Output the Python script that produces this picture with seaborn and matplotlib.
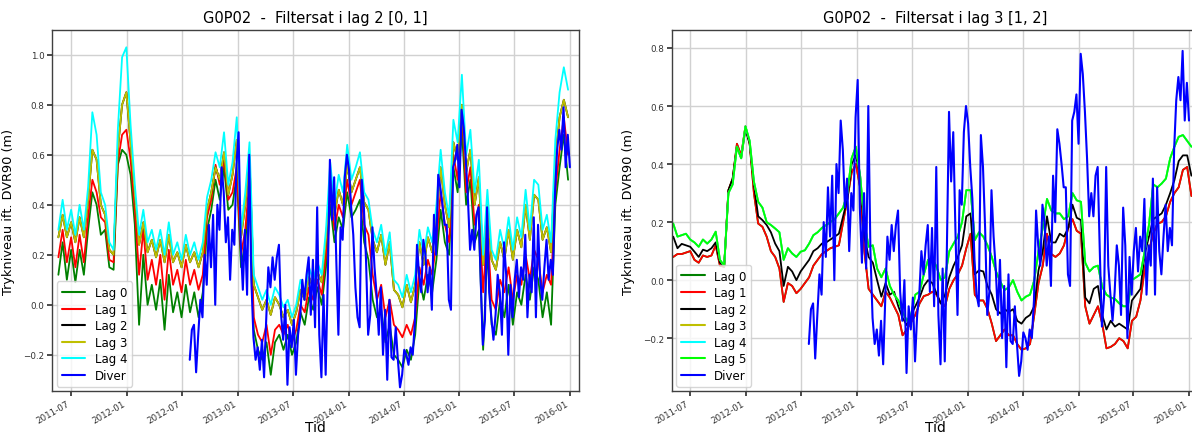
import numpy as np
import pandas as pd
import matplotlib
matplotlib.use("Agg")
import matplotlib.pyplot as plt
import matplotlib.dates as mdates
import seaborn as sns

# ---------------- data ----------------
# Left panel: lag series, 14-day steps from 2011-05-20
L_START = "2011-05-20"
l_lag4 = [0.30, 0.42, 0.30, 0.38, 0.28, 0.40, 0.30, 0.47, 0.77, 0.68,
          0.45, 0.40, 0.25, 0.22, 0.70, 0.99, 1.03, 0.72, 0.48, 0.28,
          0.38, 0.25, 0.30, 0.22, 0.30, 0.20, 0.33, 0.20, 0.25, 0.18,
          0.28, 0.20, 0.25, 0.18, 0.25, 0.43, 0.50, 0.61, 0.55, 0.69,
          0.48, 0.57, 0.75, 0.30, 0.45, 0.65, 0.12, 0.07, 0.02, 0.06,
          0.00, 0.07, 0.04, -0.01, 0.02, -0.05, 0.00, 0.10, 0.05, 0.15,
          0.10, 0.17, 0.12, 0.30, 0.57, 0.40, 0.52, 0.45, 0.64, 0.50,
          0.55, 0.61, 0.45, 0.42, 0.30, 0.25, 0.32, 0.20, 0.29, 0.10,
          0.08, 0.03, 0.12, 0.05, 0.12, 0.30, 0.20, 0.31, 0.25, 0.40,
          0.62, 0.45, 0.35, 0.74, 0.65, 0.92, 0.60, 0.70, 0.45, 0.58,
          0.20, 0.46, 0.22, 0.18, 0.30, 0.22, 0.35, 0.22, 0.35, 0.27,
          0.46, 0.30, 0.50, 0.48, 0.30, 0.36, 0.25, 0.66, 0.85, 0.95, 0.86]
l_lag3 = [0.27, 0.36, 0.27, 0.33, 0.25, 0.35, 0.27, 0.42, 0.62, 0.58,
          0.40, 0.36, 0.22, 0.20, 0.62, 0.80, 0.85, 0.65, 0.44, 0.24,
          0.33, 0.21, 0.26, 0.19, 0.26, 0.17, 0.28, 0.17, 0.21, 0.15,
          0.24, 0.17, 0.21, 0.15, 0.21, 0.38, 0.45, 0.55, 0.50, 0.61,
          0.44, 0.52, 0.66, 0.27, 0.40, 0.58, 0.08, 0.03, -0.02, 0.02,
          -0.04, 0.03, 0.00, -0.05, -0.02, -0.08, -0.03, 0.06, 0.02, 0.11,
          0.07, 0.13, 0.09, 0.26, 0.50, 0.36, 0.46, 0.40, 0.56, 0.45,
          0.50, 0.55, 0.41, 0.38, 0.26, 0.21, 0.28, 0.16, 0.25, 0.06,
          0.04, -0.01, 0.08, 0.01, 0.08, 0.25, 0.16, 0.27, 0.21, 0.35,
          0.55, 0.40, 0.31, 0.65, 0.58, 0.80, 0.53, 0.62, 0.40, 0.51,
          0.16, 0.40, 0.18, 0.14, 0.25, 0.18, 0.30, 0.18, 0.30, 0.23,
          0.40, 0.26, 0.44, 0.42, 0.26, 0.31, 0.21, 0.58, 0.75, 0.82, 0.75]
l_lag2 = l_lag3  # black line lies under the yellow one in the reference
l_lag1 = [0.19, 0.30, 0.17, 0.27, 0.15, 0.28, 0.17, 0.35, 0.50, 0.45,
          0.35, 0.33, 0.18, 0.17, 0.57, 0.68, 0.70, 0.58, 0.38, 0.12,
          0.30, 0.10, 0.18, 0.08, 0.20, 0.02, 0.22, 0.08, 0.14, 0.05,
          0.18, 0.08, 0.14, 0.06, 0.12, 0.35, 0.42, 0.56, 0.48, 0.58,
          0.42, 0.45, 0.55, 0.20, 0.30, 0.50, -0.05, -0.12, -0.15, -0.08,
          -0.20, -0.10, -0.08, -0.12, -0.08, -0.15, -0.10, 0.00, -0.03, 0.07,
          0.02, 0.10, 0.04, 0.20, 0.45, 0.30, 0.40, 0.35, 0.50, 0.40,
          0.45, 0.50, 0.32, 0.28, 0.12, 0.02, 0.08, -0.05, 0.02, -0.08,
          -0.10, -0.13, -0.08, -0.12, -0.05, 0.15, 0.08, 0.18, 0.12, 0.25,
          0.45, 0.32, 0.25, 0.60, 0.50, 0.78, 0.45, 0.55, 0.32, 0.40,
          0.05, 0.30, 0.02, -0.02, 0.10, 0.05, 0.15, 0.02, 0.12, 0.08,
          0.20, 0.10, 0.22, 0.18, 0.05, 0.12, 0.08, 0.45, 0.62, 0.75, 0.60]
l_lag0 = [0.12, 0.25, 0.10, 0.22, 0.09, 0.22, 0.12, 0.30, 0.45, 0.40,
          0.28, 0.30, 0.15, 0.14, 0.56, 0.62, 0.60, 0.52, 0.32, -0.08,
          0.20, 0.00, 0.08, -0.02, 0.10, -0.10, 0.12, -0.03, 0.05, -0.05,
          0.08, -0.03, 0.05, -0.05, 0.05, 0.30, 0.38, 0.50, 0.42, 0.55,
          0.38, 0.40, 0.52, 0.15, 0.25, 0.45, -0.10, -0.18, -0.22, -0.15,
          -0.28, -0.15, -0.12, -0.18, -0.12, -0.20, -0.15, -0.03, -0.08, 0.03,
          -0.02, 0.07, 0.00, 0.15, 0.40, 0.25, 0.35, 0.30, 0.45, 0.35,
          0.38, 0.42, 0.25, 0.18, 0.02, -0.05, -0.02, -0.15, -0.08, -0.20,
          -0.22, -0.25, -0.18, -0.22, -0.12, 0.10, 0.02, 0.12, 0.05, 0.18,
          0.38, 0.25, 0.20, 0.55, 0.45, 0.70, 0.40, 0.50, 0.25, 0.30,
          -0.18, 0.22, -0.08, -0.12, 0.02, -0.05, 0.08, -0.08, 0.05, 0.00,
          0.12, 0.02, 0.15, 0.10, -0.05, 0.05, -0.08, 0.40, 0.55, 0.68, 0.50]

# Diver (same logger in both panels), weekly from 2012-07-26
D_START = "2012-07-26"
diver = [-0.22, -0.10, -0.08, -0.27, -0.12, 0.02, -0.05, 0.20, 0.08, 0.32,
         0.15, 0.36, 0.00, 0.40, 0.30, 0.55, 0.45, 0.25, 0.35, 0.10,
         0.30, 0.24, 0.56, 0.69, 0.25, 0.06, 0.30, 0.04, 0.60, 0.10,
         -0.13, -0.22, -0.17, -0.26, -0.14, -0.29, -0.06, 0.15, 0.07, 0.19,
         0.10, 0.19, 0.24, -0.04, -0.14, 0.00, -0.32, -0.09, -0.17, -0.06,
         -0.28, -0.12, -0.05, 0.10, 0.02, 0.12, 0.19, -0.04, 0.18, -0.09,
         0.39, -0.12, -0.29, 0.04, -0.28, 0.11, 0.58, 0.34, 0.51, 0.18,
         -0.12, 0.31, 0.26, 0.51, 0.60, 0.54, 0.39, 0.28, 0.07, -0.05,
         -0.09, 0.50, 0.39, 0.18, -0.12, -0.04, 0.31, 0.15, 0.04, -0.12,
         0.07, -0.20, -0.02, -0.30, 0.02, -0.21, -0.22, -0.09, -0.22, -0.33,
         -0.28, -0.18, -0.20, -0.24, -0.17, -0.20, -0.07, 0.24, 0.12, 0.05,
         0.26, 0.20, 0.05, 0.15, -0.02, 0.36, 0.20, 0.52, 0.47, 0.40,
         0.32, 0.32, 0.02, -0.02, 0.55, 0.58, 0.64, 0.47, 0.78, 0.71,
         0.58, 0.42, 0.22, 0.30, 0.22, 0.36, 0.39, 0.10, -0.16, -0.06,
         0.39, 0.05, -0.05, -0.14, -0.04, 0.12, 0.05, -0.12, 0.25, 0.12,
         -0.20, 0.08, -0.05, 0.10, 0.18, 0.03, 0.15, 0.10, 0.28, -0.05,
         0.12, 0.05, 0.35, -0.05, 0.32, 0.10, 0.02, 0.15, 0.26, 0.10,
         0.18, 0.12, 0.45, 0.62, 0.70, 0.62, 0.79, 0.55, 0.68, 0.55]

# Right panel: lag series, 14-day steps from 2011-05-06
R_START = "2011-05-06"
r_lag5 = [0.195, 0.15, 0.155, 0.16, 0.14, 0.13, 0.115, 0.14, 0.126, 0.14,
          0.167, 0.07, 0.05, 0.30, 0.33, 0.46, 0.42, 0.53, 0.48, 0.34,
          0.27, 0.25, 0.20, 0.19, 0.178, 0.165, 0.07, 0.11, 0.092, 0.08,
          0.098, 0.103, 0.126, 0.155, 0.165, 0.18, 0.19, 0.20, 0.21, 0.23,
          0.25, 0.30, 0.42, 0.46, 0.36, 0.20, 0.115, 0.12, 0.04, 0.01,
          0.04, -0.02, -0.05, -0.07, -0.11, -0.14, -0.12, -0.05, -0.04, 0.02,
          0.07, 0.075, 0.046, 0.00, 0.01, 0.10, 0.126, 0.15, 0.20, 0.31,
          0.31, 0.138, 0.165, 0.15, 0.12, 0.08, 0.03, -0.005, -0.034, -0.025,
          0.00, -0.04, -0.07, -0.057, -0.05, 0.00, 0.10, 0.18, 0.28, 0.24,
          0.23, 0.23, 0.21, 0.22, 0.30, 0.275, 0.27, 0.06, 0.03, 0.045,
          0.05, -0.023, -0.05, -0.06, -0.065, -0.08, -0.09, -0.09, 0.00, 0.01,
          0.02, 0.10, 0.19, 0.33, 0.32, 0.333, 0.35, 0.42, 0.46, 0.494,
          0.50, 0.48, 0.46]
r_lag4 = r_lag5  # cyan and yellow run under the lime line
r_lag3 = r_lag5
r_lag2 = [0.15, 0.11, 0.125, 0.12, 0.115, 0.098, 0.08, 0.105, 0.10, 0.11,
          0.13, 0.06, 0.05, 0.31, 0.35, 0.46, 0.42, 0.52, 0.47, 0.33,
          0.22, 0.207, 0.19, 0.165, 0.126, 0.10, -0.02, 0.046, 0.03, 0.00,
          0.03, 0.05, 0.07, 0.10, 0.11, 0.126, 0.13, 0.14, 0.15, 0.16,
          0.22, 0.28, 0.40, 0.43, 0.36, 0.15, 0.08, 0.06, 0.00, -0.057,
          -0.01, -0.05, -0.04, -0.09, -0.13, -0.155, -0.12, -0.09, -0.06, -0.02,
          0.00, -0.01, -0.046, -0.08, -0.05, 0.01, 0.05, 0.08, 0.12, 0.22,
          0.23, 0.02, 0.034, 0.03, -0.02, -0.05, -0.10, -0.115, -0.10, -0.11,
          -0.10, -0.14, -0.15, -0.13, -0.12, -0.09, 0.034, 0.10, 0.22, 0.13,
          0.13, 0.16, 0.15, 0.18, 0.26, 0.215, 0.207, -0.06, -0.08, -0.03,
          -0.02, -0.12, -0.17, -0.14, -0.16, -0.15, -0.16, -0.17, -0.07, -0.05,
          -0.03, 0.09, 0.15, 0.21, 0.22, 0.23, 0.26, 0.30, 0.345, 0.41,
          0.43, 0.43, 0.36]
r_lag1 = [0.08, 0.09, 0.09, 0.095, 0.10, 0.07, 0.06, 0.085, 0.08, 0.085,
          0.12, 0.05, 0.046, 0.31, 0.35, 0.47, 0.43, 0.53, 0.47, 0.30,
          0.195, 0.184, 0.15, 0.10, 0.08, 0.04, -0.075, -0.01, -0.02, -0.045,
          -0.03, -0.01, 0.01, 0.05, 0.07, 0.09, 0.10, 0.11, 0.115, 0.12,
          0.20, 0.28, 0.37, 0.40, 0.32, 0.10, -0.03, -0.05, -0.07, -0.09,
          -0.04, -0.06, -0.09, -0.12, -0.19, -0.17, -0.145, -0.12, -0.08, -0.055,
          -0.05, -0.04, -0.05, -0.08, -0.09, -0.03, 0.00, 0.02, 0.05, 0.11,
          0.16, -0.05, -0.07, -0.07, -0.10, -0.15, -0.21, -0.19, -0.17, -0.19,
          -0.19, -0.22, -0.24, -0.235, -0.22, -0.12, -0.01, 0.05, 0.16, 0.09,
          0.08, 0.092, 0.12, 0.18, 0.21, 0.17, 0.16, -0.09, -0.15, -0.12,
          -0.09, -0.15, -0.235, -0.23, -0.22, -0.20, -0.21, -0.235, -0.14, -0.126,
          -0.07, 0.04, 0.10, 0.16, 0.195, 0.20, 0.22, 0.27, 0.30, 0.32,
          0.38, 0.39, 0.29]
r_lag0 = r_lag1  # dark-green line is hidden under the red one

LEFT_TITLE = "G0P02  -  Filtersat i lag 2 [0, 1]"
RIGHT_TITLE = "G0P02  -  Filtersat i lag 3 [1, 2]"
Y_LABEL = "Trykniveau ift. DVR90 (m)"
X_LABEL = "Tid"

COLORS = {"Lag 0": "#008000", "Lag 1": "#ff0000", "Lag 2": "#000000",
          "Lag 3": "#bfbf00", "Lag 4": "#00ffff", "Lag 5": "#00ff00",
          "Diver": "#0000ff"}

# ---------------- style ----------------
sns.set_theme(style="whitegrid", rc={
    "axes.edgecolor": "0.25",
    "axes.linewidth": 1.0,
    "grid.color": "0.82",
    "grid.linewidth": 1.0,
    "xtick.bottom": True,
    "ytick.left": True,
    "xtick.major.size": 3.5,
    "ytick.major.size": 3.5,
    "xtick.color": "0.2",
    "ytick.color": "0.2",
    "text.color": "black",
    "axes.labelcolor": "black",
})
plt.rcParams["font.family"] = ["DejaVu Sans"]

fig = plt.figure(figsize=(11.92, 4.35), dpi=100)
ax_l = fig.add_axes([0.04388, 0.09816, 0.44211, 0.83057])
ax_r = fig.add_axes([0.56351, 0.09816, 0.44211, 0.83057])


def dates(start, n, step):
    return pd.date_range(start, periods=n, freq=step)


def draw(ax, x, y, label, lw=1.3):
    sns.lineplot(x=x, y=y, ax=ax, color=COLORS[label], label=label,
                 linewidth=lw, estimator=None, sort=False)


# Left panel
lx = dates(L_START, len(l_lag4), "14D")
dx = dates(D_START, len(diver), "7D")
draw(ax_l, lx, l_lag0, "Lag 0")
draw(ax_l, lx, l_lag1, "Lag 1")
draw(ax_l, lx, l_lag2, "Lag 2")
draw(ax_l, lx, l_lag3, "Lag 3")
draw(ax_l, lx, l_lag4, "Lag 4")
draw(ax_l, dx, diver, "Diver", lw=1.5)

# Right panel
rx = dates(R_START, len(r_lag5), "14D")
draw(ax_r, rx, r_lag0, "Lag 0")
draw(ax_r, rx, r_lag1, "Lag 1")
draw(ax_r, rx, r_lag2, "Lag 2")
draw(ax_r, rx, r_lag3, "Lag 3")
draw(ax_r, rx, r_lag4, "Lag 4")
draw(ax_r, rx, r_lag5, "Lag 5")
draw(ax_r, dx, diver, "Diver", lw=1.5)

for ax, title, ylim, xl in [
    (ax_l, LEFT_TITLE, (-0.346, 1.099), ("2011-04-30", "2016-01-31")),
    (ax_r, RIGHT_TITLE, (-0.383, 0.862), ("2011-05-01", "2016-02-01")),
]:
    ax.set_title(title, fontsize=10.5, pad=6)
    ax.set_ylabel(Y_LABEL, fontsize=9.3, labelpad=6)
    ax.set_xlabel(X_LABEL, fontsize=10)
    ax.xaxis.set_label_coords(0.5, -0.08)
    ax.set_ylim(*ylim)
    ax.set_xlim(pd.Timestamp(xl[0]), pd.Timestamp(xl[1]))
    ax.xaxis.set_major_locator(mdates.MonthLocator(bymonth=(1, 7)))
    ax.xaxis.set_major_formatter(mdates.DateFormatter("%Y-%m"))
    ax.yaxis.set_major_locator(matplotlib.ticker.MultipleLocator(0.2))
    ax.tick_params(axis="both", labelsize=6.3, pad=2)
    for lab in ax.get_xticklabels():
        lab.set_rotation(30)
        lab.set_ha("right")
    leg = ax.legend(loc="lower left", fontsize=8.5, frameon=True,
                    framealpha=0.8, edgecolor="0.8", handlelength=2.0,
                    borderaxespad=0.4, labelspacing=0.3)
    for h in leg.get_lines():
        h.set_linewidth(1.5)

fig.savefig("out.png", dpi=100)
